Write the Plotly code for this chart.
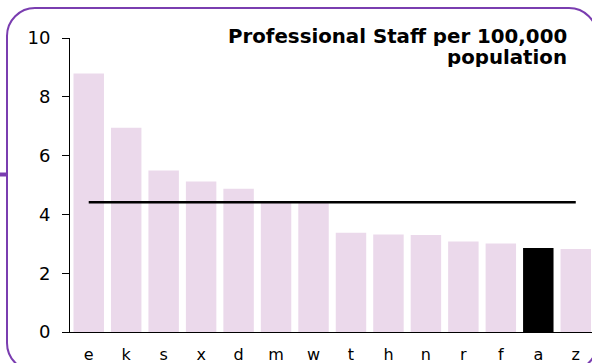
import plotly.graph_objects as go

# Professional staff per 100,000 population, by area (sorted high to low)
areas = ["e", "k", "s", "x", "d", "m", "w", "t", "h", "n", "r", "f", "a", "z"]
staff_per_100k = [8.79, 6.95, 5.49, 5.12, 4.87, 4.43, 4.40, 3.38, 3.32, 3.30, 3.08, 3.01, 2.86, 2.82]
highlight_area = "a"
average_value = 4.41

y_ticks = [0, 2, 4, 6, 8, 10]
title_lines = ["Professional Staff per 100,000", "population"]

W, H = 592, 363
M_L, M_R, M_T, M_B = 70, 0, 38, 31
PLOT_W = W - M_L - M_R
PLOT_H = H - M_T - M_B

BAR_COLOR = "#EBD9EB"
HILITE_COLOR = "#000000"
FRAME_COLOR = "#7A3DB0"
FONT = "DejaVu Sans"


def px(x):
    """Horizontal pixel position -> paper coordinate."""
    return (x - M_L) / PLOT_W


def py(y):
    """Vertical pixel position -> paper coordinate."""
    return (H - M_B - y) / PLOT_H


colors = [HILITE_COLOR if a == highlight_area else BAR_COLOR for a in areas]

fig = go.Figure()
fig.add_trace(go.Bar(
    x=areas,
    y=staff_per_100k,
    marker=dict(color=colors, line=dict(width=0)),
    hoverinfo="x+y",
))
fig.add_trace(go.Scatter(
    x=[areas[0], areas[-1]],
    y=[average_value, average_value],
    mode="lines",
    line=dict(color="#000000", width=2.5),
    hoverinfo="y",
))

# rounded frame around the chart
x0, y0, x1, y1, r = 7, 8, 597, 371, 28
k = 0.5523 * r
frame_path = (
    f"M {px(x0 + r)},{py(y0)} L {px(x1 - r)},{py(y0)} "
    f"C {px(x1 - r + k)},{py(y0)} {px(x1)},{py(y0 + r - k)} {px(x1)},{py(y0 + r)} "
    f"L {px(x1)},{py(y1 - r)} "
    f"C {px(x1)},{py(y1 - r + k)} {px(x1 - r + k)},{py(y1)} {px(x1 - r)},{py(y1)} "
    f"L {px(x0 + r)},{py(y1)} "
    f"C {px(x0 + r - k)},{py(y1)} {px(x0)},{py(y1 - r + k)} {px(x0)},{py(y1 - r)} "
    f"L {px(x0)},{py(y0 + r)} "
    f"C {px(x0)},{py(y0 + r - k)} {px(x0 + r - k)},{py(y0)} {px(x0 + r)},{py(y0)} Z"
)
fig.add_shape(type="path", xref="paper", yref="paper", path=frame_path,
              line=dict(color=FRAME_COLOR, width=2), layer="below")
# connector stub on the left edge of the frame
fig.add_shape(type="line", xref="paper", yref="paper",
              x0=px(-2), x1=px(7), y0=py(174.5), y1=py(174.5),
              line=dict(color=FRAME_COLOR, width=4))

# two-line title, right aligned, each line placed separately with tight spacing
for line_text, y_mid in zip(title_lines, [36.0, 57.0]):
    fig.add_annotation(
        x=px(568), y=py(y_mid), xref="paper", yref="paper",
        xanchor="right", yanchor="middle", align="right", valign="middle",
        height=20, borderpad=0, showarrow=False,
        text=line_text,
        font=dict(family=FONT, size=19.8, color="#000000", weight="bold"),
    )

fig.update_layout(
    width=W, height=H,
    margin=dict(l=M_L, r=M_R, t=M_T, b=M_B, pad=0, autoexpand=False),
    paper_bgcolor="#FFFFFF", plot_bgcolor="#FFFFFF",
    showlegend=False,
    bargap=0.187,
    font=dict(family=FONT, color="#000000"),
)
fig.update_xaxes(
    range=[-0.5, len(areas) - 0.5 - 2.5 / 37.5],
    showline=True, linecolor="#000000", linewidth=1,
    ticks="", showgrid=False, zeroline=False,
    tickfont=dict(family=FONT, size=16, color="#000000"),
    ticklabelstandoff=8, automargin=False,
)
fig.update_yaxes(
    range=[0, 10], tickvals=y_ticks,
    showline=True, linecolor="#000000", linewidth=1,
    ticks="outside", ticklen=7, tickcolor="#000000", tickwidth=1,
    showgrid=False, zeroline=False,
    tickfont=dict(family=FONT, size=18, color="#000000"),
    ticklabelstandoff=8, automargin=False,
)

fig.write_html("out.html")
